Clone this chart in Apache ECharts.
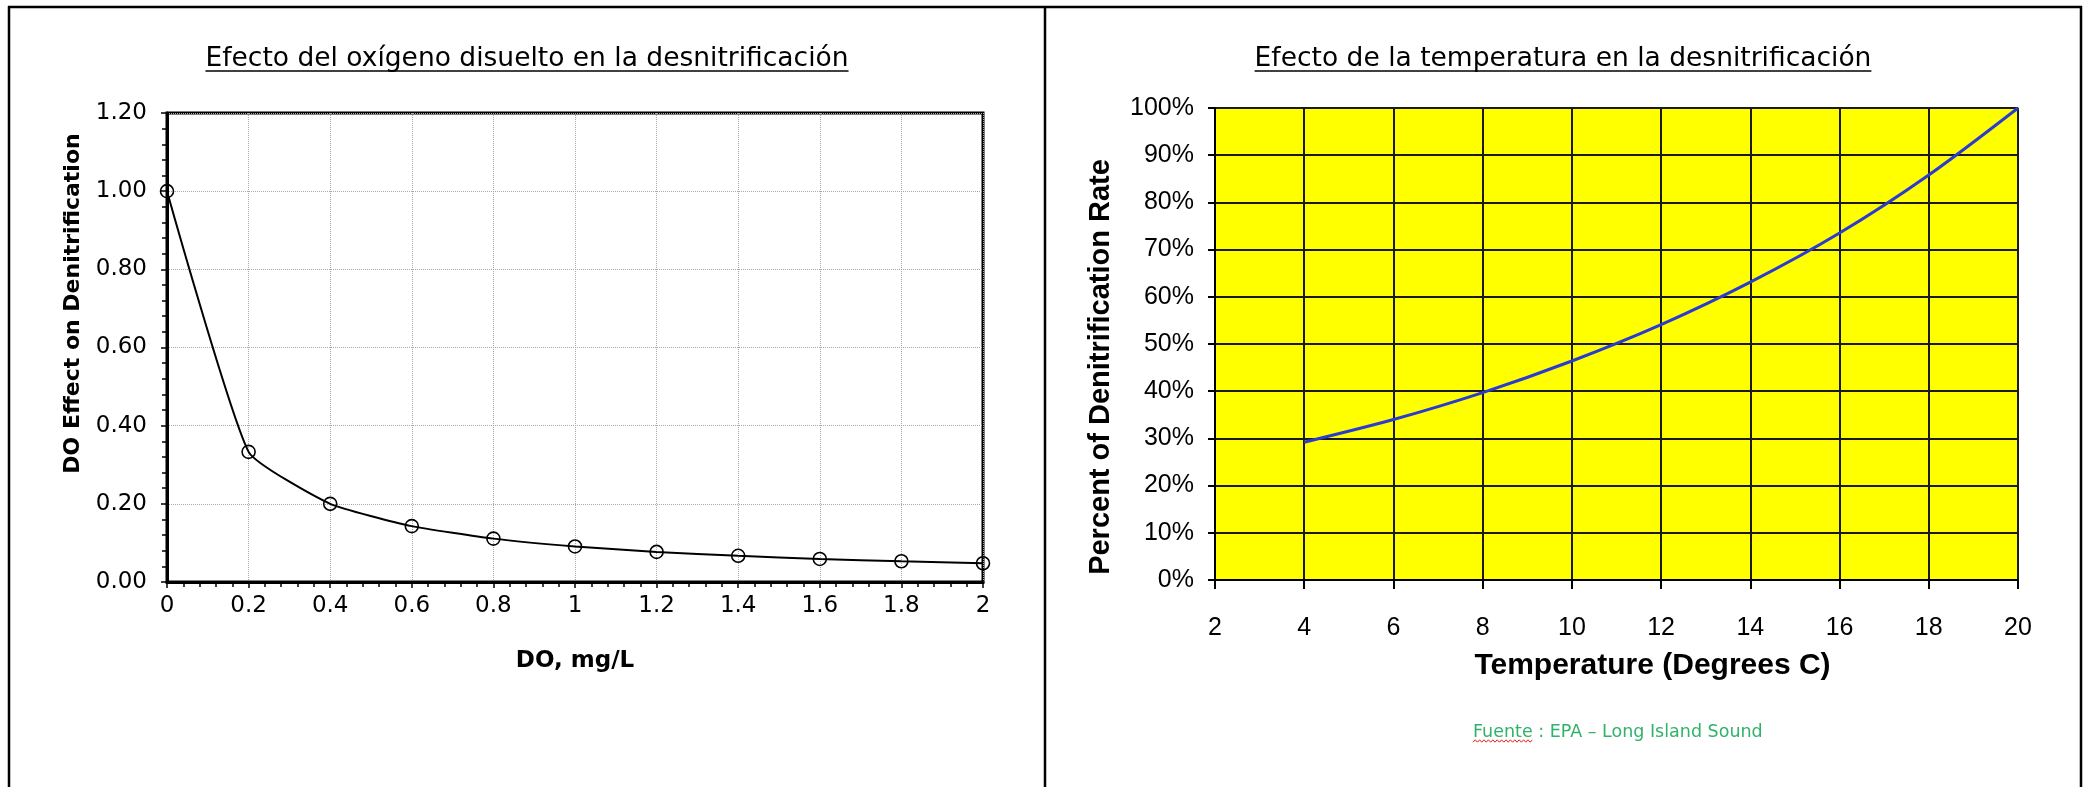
<!DOCTYPE html>
<html>
<head>
<meta charset="utf-8">
<script src="https://cdn.jsdelivr.net/npm/echarts@6/dist/echarts.min.js"></script>
<style>
  html, body { margin: 0; padding: 0; background: #fff; }
  #chart { width: 2087px; height: 787px; }
</style>
</head>
<body>
<div id="chart"></div>
<script>
// Dissolved-oxygen effect on denitrification (left panel)
const doLevels = [0, 0.2, 0.4, 0.6, 0.8, 1.0, 1.2, 1.4, 1.6, 1.8, 2.0];
const doEffect = [1.00, 0.333, 0.200, 0.143, 0.111, 0.091, 0.077, 0.067, 0.059, 0.053, 0.048];

// Temperature effect on denitrification rate, in percent (right panel)
const temperatures = [4, 6, 8, 10, 12, 14, 16, 18, 20];
const ratePercent = [29.2, 34.0, 39.7, 46.4, 54.1, 63.1, 73.5, 85.8, 100];

// Titles and captions
const titleLeft = 'Efecto del oxígeno disuelto en la desnitrificación';
const titleRight = 'Efecto de la temperatura en la desnitrificación';
const sourceWord = 'Fuente';
const sourceRest = ' : EPA – Long Island Sound';

const VERDANA = '"DejaVu Sans", Verdana, sans-serif';
const ARIAL = '"Liberation Sans", Arial, sans-serif';

const measureCtx = document.createElement('canvas').getContext('2d');
function textWidth(text, font) {
  measureCtx.font = font;
  return measureCtx.measureText(text).width;
}

const chart = echarts.init(document.getElementById('chart'), null, { renderer: 'canvas' });

const titleFont = '26.5px ' + VERDANA;
const titleY = 59;
const underlineY = 71;
const wLeft = textWidth(titleLeft, titleFont);
const wRight = textWidth(titleRight, titleFont);
const cxLeft = 527, cxRight = 1563;

const sourceFont = '17.5px ' + VERDANA;
const sourceX = 1473, sourceY = 732;
const wordW = textWidth(sourceWord, sourceFont);

// red wavy spell-check underline under the first word of the caption
const squiggle = [];
for (let x = 0, i = 0; x <= wordW; x += 2.2, i++) {
  squiggle.push([sourceX + x, 741 + (i % 2 ? -1.2 : 1.2)]);
}

const frameStyle = { stroke: '#000', lineWidth: 2.5 };

const option = {
  animation: false,
  backgroundColor: '#fff',
  grid: [
    { left: 167, top: 113, width: 816, height: 469, show: true, borderColor: '#000', borderWidth: 3, backgroundColor: 'transparent' },
    { left: 1215, top: 108, width: 803, height: 472, show: true, borderColor: '#8c8c8c', borderWidth: 1.5, backgroundColor: '#FFFF00' }
  ],
  xAxis: [
    {
      gridIndex: 0, type: 'value', min: 0, max: 2, interval: 0.2,
      axisLine: { show: true, onZero: false, lineStyle: { color: '#000', width: 3 } },
      axisTick: { show: true, length: 6, lineStyle: { color: '#000', width: 1.5 } },
      axisLabel: { margin: 13, fontFamily: VERDANA, fontSize: 23, color: '#000' },
      splitLine: { show: true, lineStyle: { color: '#a8a8a8', width: 1, type: 'dotted' } },
      name: 'DO, mg/L', nameLocation: 'middle', nameGap: 68,
      nameTextStyle: { fontFamily: VERDANA, fontWeight: 'bold', fontSize: 23, color: '#000' }
    },
    {
      gridIndex: 0, type: 'value', min: 0, max: 2, interval: 0.04,
      axisLine: { show: false },
      axisTick: { show: true, inside: true, length: 5, lineStyle: { color: '#000', width: 1.5 } },
      axisLabel: { show: false }, splitLine: { show: false }
    },
    {
      gridIndex: 1, type: 'value', min: 2, max: 20, interval: 2,
      axisLine: { show: true, onZero: false, lineStyle: { color: '#000', width: 2 } },
      axisTick: { show: true, length: 9, lineStyle: { color: '#000', width: 2 } },
      axisLabel: { margin: 36, fontFamily: ARIAL, fontSize: 25, color: '#000' },
      splitLine: { show: true, lineStyle: { color: '#1a1a1a', width: 2 } },
      name: 'Temperature (Degrees C)', nameLocation: 'middle', nameGap: 71,
      nameTextStyle: { fontFamily: ARIAL, fontWeight: 'bold', fontSize: 30, color: '#000', padding: [0, 0, 0, 72] }
    }
  ],
  yAxis: [
    {
      gridIndex: 0, type: 'value', min: 0, max: 1.2, interval: 0.2,
      axisLine: { show: true, onZero: false, lineStyle: { color: '#000', width: 3 } },
      axisTick: { show: true, length: 6, lineStyle: { color: '#000', width: 1.5 } },
      axisLabel: { margin: 20, fontFamily: VERDANA, fontSize: 23, color: '#000', formatter: v => v.toFixed(2) },
      splitLine: { show: true, lineStyle: { color: '#a8a8a8', width: 1, type: 'dotted' } },
      name: 'DO Effect on Denitrification', nameLocation: 'middle', nameGap: 83, nameRotate: 90,
      nameTextStyle: { fontFamily: VERDANA, fontWeight: 'bold', fontSize: 22, color: '#000', padding: [0, 0, 0, 88] }
    },
    {
      gridIndex: 0, type: 'value', min: 0, max: 1.2, interval: 0.04,
      axisLine: { show: false },
      axisTick: { show: true, inside: true, length: 5, lineStyle: { color: '#000', width: 1.5 } },
      axisLabel: { show: false }, splitLine: { show: false }
    },
    {
      gridIndex: 1, type: 'value', min: 0, max: 100, interval: 10,
      axisLine: { show: true, onZero: false, lineStyle: { color: '#000', width: 2 } },
      axisTick: { show: true, length: 7, lineStyle: { color: '#000', width: 2 } },
      axisLabel: { margin: 21, fontFamily: ARIAL, fontSize: 25, color: '#000', formatter: v => v + '%' },
      splitLine: { show: true, lineStyle: { color: '#1a1a1a', width: 2 } },
      name: 'Percent of Denitrification Rate', nameLocation: 'middle', nameGap: 100, nameRotate: 90,
      nameTextStyle: { fontFamily: ARIAL, fontWeight: 'bold', fontSize: 29, color: '#000', padding: [0, 46, 0, 0] }
    }
  ],
  series: [
    {
      type: 'line', xAxisIndex: 0, yAxisIndex: 0,
      data: doLevels.map((x, i) => [x, doEffect[i]]),
      smooth: 0.15, clip: false,
      symbol: 'circle', symbolSize: 13,
      lineStyle: { color: '#000', width: 2 },
      itemStyle: { color: 'rgba(0,0,0,0)', borderColor: '#000', borderWidth: 1.6 },
      z: 5
    },
    {
      type: 'line', xAxisIndex: 2, yAxisIndex: 2,
      data: temperatures.map((t, i) => [t, ratePercent[i]]),
      smooth: 0.3, clip: false, showSymbol: false, symbol: 'none',
      lineStyle: { color: '#2b3bd0', width: 3 },
      z: 5
    }
  ],
  graphic: [
    // page frame
    { type: 'line', shape: { x1: 8, y1: 7, x2: 2082, y2: 7 }, style: frameStyle, silent: true },
    { type: 'line', shape: { x1: 9, y1: 6, x2: 9, y2: 787 }, style: frameStyle, silent: true },
    { type: 'line', shape: { x1: 1045, y1: 6, x2: 1045, y2: 787 }, style: frameStyle, silent: true },
    { type: 'line', shape: { x1: 2081, y1: 6, x2: 2081, y2: 787 }, style: frameStyle, silent: true },
    // panel titles, underlined
    { type: 'text', x: cxLeft, y: titleY, style: { text: titleLeft, font: titleFont, fill: '#000', align: 'center', verticalAlign: 'middle' }, silent: true },
    { type: 'line', shape: { x1: cxLeft - wLeft / 2, y1: underlineY, x2: cxLeft + wLeft / 2, y2: underlineY }, style: { stroke: '#000', lineWidth: 1.5 }, silent: true },
    { type: 'text', x: cxRight, y: titleY, style: { text: titleRight, font: titleFont, fill: '#000', align: 'center', verticalAlign: 'middle' }, silent: true },
    { type: 'line', shape: { x1: cxRight - wRight / 2, y1: underlineY, x2: cxRight + wRight / 2, y2: underlineY }, style: { stroke: '#000', lineWidth: 1.5 }, silent: true },
    // source caption
    { type: 'text', x: sourceX, y: sourceY, style: { text: sourceWord + sourceRest, font: sourceFont, fill: '#2fb36a', align: 'left', verticalAlign: 'middle' }, silent: true },
    { type: 'polyline', shape: { points: squiggle }, style: { stroke: '#e02020', lineWidth: 1, fill: null }, silent: true }
  ]
};

chart.setOption(option);
</script>
</body>
</html>
